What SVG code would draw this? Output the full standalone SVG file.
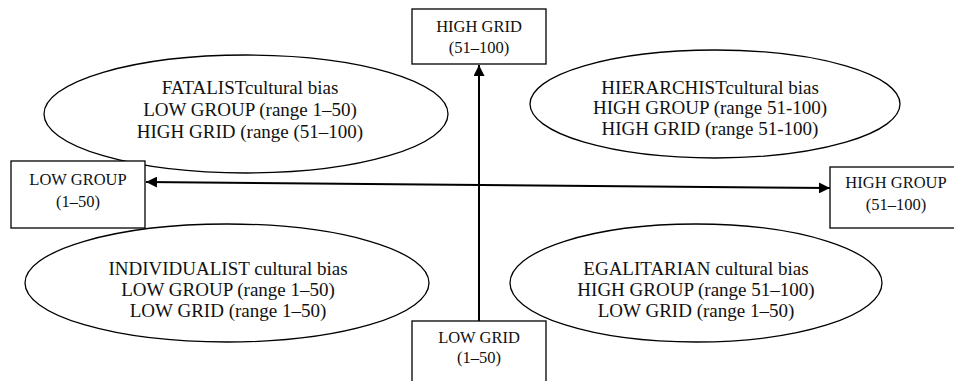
<svg xmlns="http://www.w3.org/2000/svg" width="954" height="381" viewBox="0 0 954 381">
<defs>
<style>
.box{fill:#fff;stroke:#000;stroke-width:1.3}
.ell{fill:#fff;stroke:#000;stroke-width:1.3}
.bt{font-family:"Liberation Serif","Times New Roman",serif;font-size:16.5px;fill:#111;text-anchor:middle}
.et{font-family:"Liberation Serif","Times New Roman",serif;font-size:19px;fill:#111;text-anchor:middle}
.conn{stroke:#000;stroke-width:2;fill:none}
</style>
<marker id="ah" viewBox="0 0 10 10" refX="10" refY="5" markerWidth="5.5" markerHeight="5.5" orient="auto-start-reverse" markerUnits="strokeWidth">
<path d="M0,0 L10,5 L0,10 z" fill="#000"/>
</marker>
</defs>
<rect width="954" height="381" fill="#fff"/>
<g id="fatalist"><ellipse class="ell" cx="246" cy="114" rx="202" ry="59"/>
<text class="et" x="250" y="94">FATALISTcultural bias</text>
<text class="et" x="250" y="116">LOW GROUP (range 1–50)</text>
<text class="et" x="250" y="138">HIGH GRID (range (51–100)</text></g>
<g id="hierarchist"><ellipse class="ell" cx="715" cy="104" rx="185" ry="54"/>
<text class="et" x="710" y="94">HIERARCHISTcultural bias</text>
<text class="et" x="710" y="114">HIGH GROUP (range 51-100)</text>
<text class="et" x="710" y="135">HIGH GRID (range 51-100)</text></g>
<g id="individualist"><ellipse class="ell" cx="227" cy="283" rx="202" ry="59"/>
<text class="et" x="228" y="275">INDIVIDUALIST cultural bias</text>
<text class="et" x="228" y="296">LOW GROUP (range 1–50)</text>
<text class="et" x="228" y="317">LOW GRID (range 1–50)</text></g>
<g id="egalitarian"><ellipse class="ell" cx="696" cy="283" rx="186" ry="59"/>
<text class="et" x="696" y="275">EGALITARIAN cultural bias</text>
<text class="et" x="696" y="296">HIGH GROUP (range 51–100)</text>
<text class="et" x="696" y="317">LOW GRID (range 1–50)</text></g>
<g id="connectors">
<line class="conn" x1="479" y1="321" x2="479" y2="65" marker-end="url(#ah)"/>
<line class="conn" x1="146" y1="182" x2="830" y2="188" marker-start="url(#ah)" marker-end="url(#ah)"/>
</g>
<g id="high-grid"><rect class="box" x="412" y="9" width="134" height="55"/>
<text class="bt" x="479" y="32">HIGH GRID</text>
<text class="bt" x="479" y="53">(51–100)</text></g>
<g id="low-group"><rect class="box" x="11" y="161" width="134" height="67"/>
<text class="bt" x="78" y="185">LOW GROUP</text>
<text class="bt" x="78" y="207">(1–50)</text></g>
<g id="high-group"><rect class="box" x="830" y="167" width="134" height="61"/>
<text class="bt" x="896" y="188">HIGH GROUP</text>
<text class="bt" x="896" y="210">(51–100)</text></g>
<g id="low-grid"><rect class="box" x="412" y="321" width="134" height="70"/>
<text class="bt" x="479" y="343">LOW GRID</text>
<text class="bt" x="479" y="363">(1–50)</text></g>
</svg>
